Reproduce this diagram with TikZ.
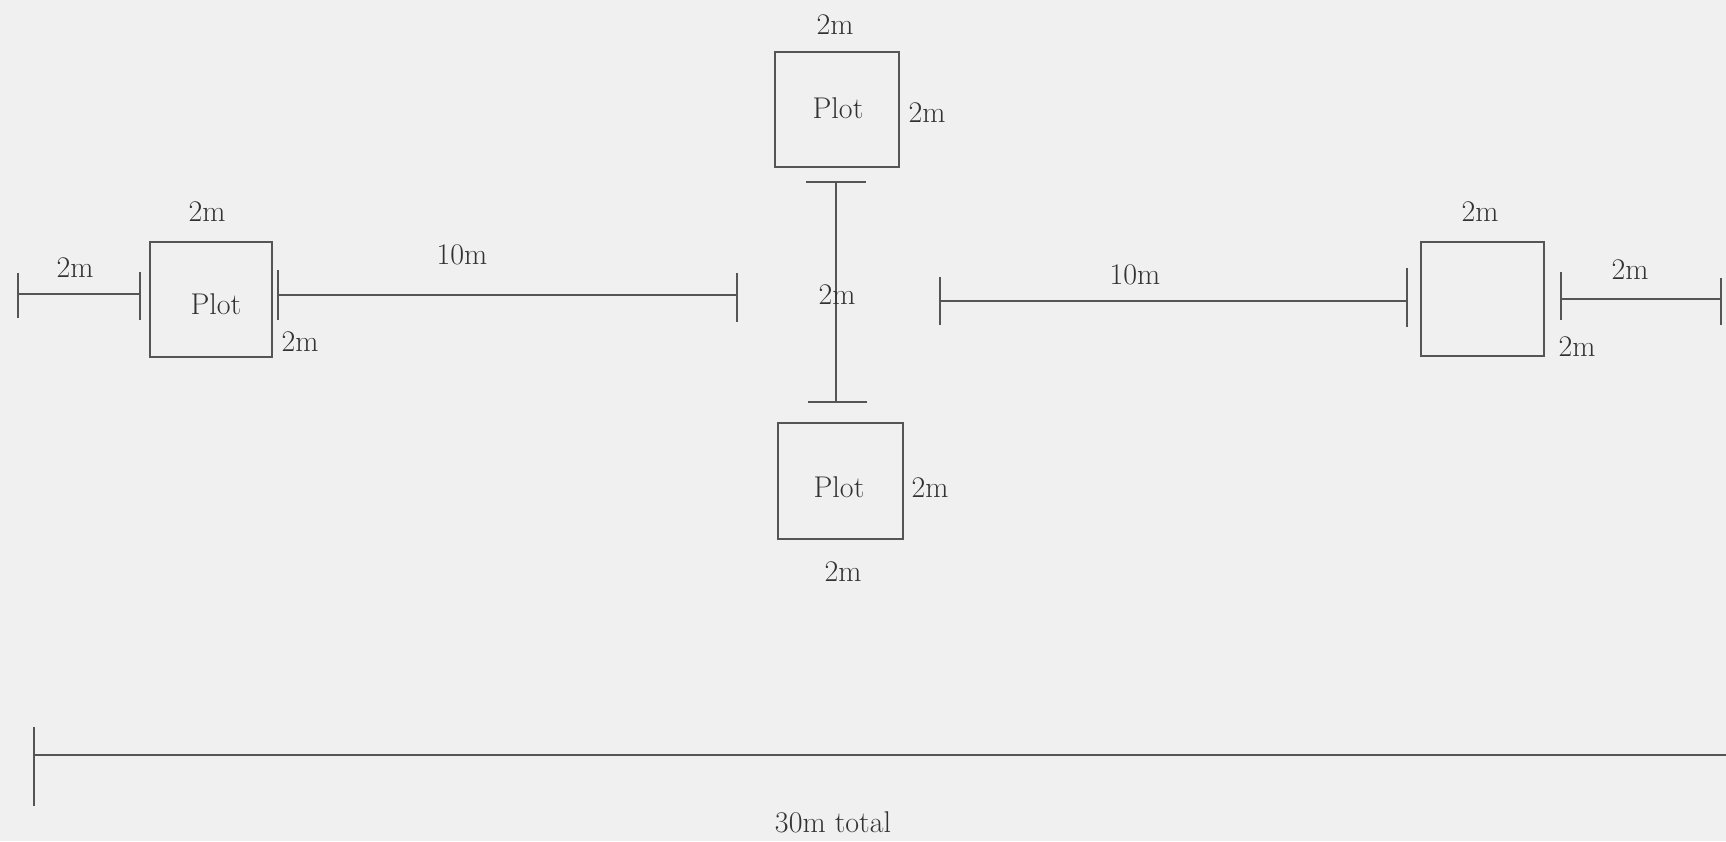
\documentclass[tikz,border=0pt]{standalone}
\definecolor{bgc}{RGB}{240,240,240}
\definecolor{linec}{RGB}{85,85,85}
\definecolor{textc}{RGB}{50,50,50}
\tikzset{
  dimline/.style={draw=linec, line width=2pt},
  plotbox/.style={draw=linec, line width=2.2pt, inner sep=0pt},
  lbl/.style={inner sep=0pt, text=textc, font=\fontsize{30}{30}\selectfont},
}
\begin{document}
\begin{tikzpicture}[x=1pt,y=-1pt]
\fill[bgc] (0,0) rectangle (1726,841);
\useasboundingbox (0,0) rectangle (1726,841);

% plots
\node[plotbox, minimum width=122pt, minimum height=115pt] (pl) at (211,299.5) {};
\node[plotbox, minimum width=124pt, minimum height=115pt] (pt) at (837,109.5) {};
\node[plotbox, minimum width=125pt, minimum height=116pt] (pb) at (840.5,481) {};
\node[plotbox, minimum width=123pt, minimum height=114pt] (pr) at (1482.5,299) {};
\node[lbl] (tl) at (216,304) {Plot};
\node[lbl] (tt) at (838,108) {Plot};
\node[lbl] (tb) at (839,487) {Plot};

% left 2m spacing
\coordinate (a1t) at (18,273); \coordinate (a1b) at (18,318);
\coordinate (a2t) at (140,272); \coordinate (a2b) at (140,320);
\coordinate (a1) at (18,294); \coordinate (a2) at (140,294);
\draw[dimline] (a1t) -- (a1b);
\draw[dimline] (a2t) -- (a2b);
\draw[dimline] (a1) -- (a2);

% left 10m
\coordinate (b1t) at (278,270); \coordinate (b1b) at (278,320);
\coordinate (b2t) at (737,273); \coordinate (b2b) at (737,322);
\coordinate (b1) at (278,295); \coordinate (b2) at (737,295);
\draw[dimline] (b1t) -- (b1b);
\draw[dimline] (b2t) -- (b2b);
\draw[dimline] (b1) -- (b2);

% centre vertical 2m
\coordinate (c1l) at (806,182); \coordinate (c1r) at (866,182);
\coordinate (c2l) at (808,402); \coordinate (c2r) at (867,402);
\coordinate (c1) at (836,182); \coordinate (c2) at (836,402);
\draw[dimline] (c1l) -- (c1r);
\draw[dimline] (c2l) -- (c2r);
\draw[dimline] (c1) -- (c2);

% right 10m
\coordinate (d1t) at (940,277); \coordinate (d1b) at (940,325);
\coordinate (d2t) at (1407,268); \coordinate (d2b) at (1407,327);
\coordinate (d1) at (940,301); \coordinate (d2) at (1407,301);
\draw[dimline] (d1t) -- (d1b);
\draw[dimline] (d2t) -- (d2b);
\draw[dimline] (d1) -- (d2);

% right 2m spacing
\coordinate (e1t) at (1561,272); \coordinate (e1b) at (1561,320);
\coordinate (e2t) at (1721,278); \coordinate (e2b) at (1721,325);
\coordinate (e1) at (1561,299); \coordinate (e2) at (1721,299);
\draw[dimline] (e1t) -- (e1b);
\draw[dimline] (e2t) -- (e2b);
\draw[dimline] (e1) -- (e2);

% total
\coordinate (f1t) at (34,727); \coordinate (f1b) at (34,806);
\coordinate (f1) at (34,755); \coordinate (f2) at (1726,755);
\draw[dimline] (f1t) -- (f1b);
\draw[dimline] (f1) -- (f2);

% labels
\node[lbl] (l1) at (75,268) {2m};
\node[lbl] (l2) at (207,212) {2m};
\node[lbl] (l3) at (300,342) {2m};
\node[lbl] (l4) at (462,255) {10m};
\node[lbl] (l5) at (835,25) {2m};
\node[lbl] (l6) at (927,113) {2m};
\node[lbl] (l7) at (837,295) {2m};
\node[lbl] (l8) at (930,488) {2m};
\node[lbl] (l9) at (843,572) {2m};
\node[lbl] (l10) at (1135,275) {10m};
\node[lbl] (l11) at (1480,212) {2m};
\node[lbl] (l12) at (1630,270) {2m};
\node[lbl] (l13) at (1577,347) {2m};
\node[lbl] (l14) at (833,822) {30m total};
\end{tikzpicture}
\end{document}
